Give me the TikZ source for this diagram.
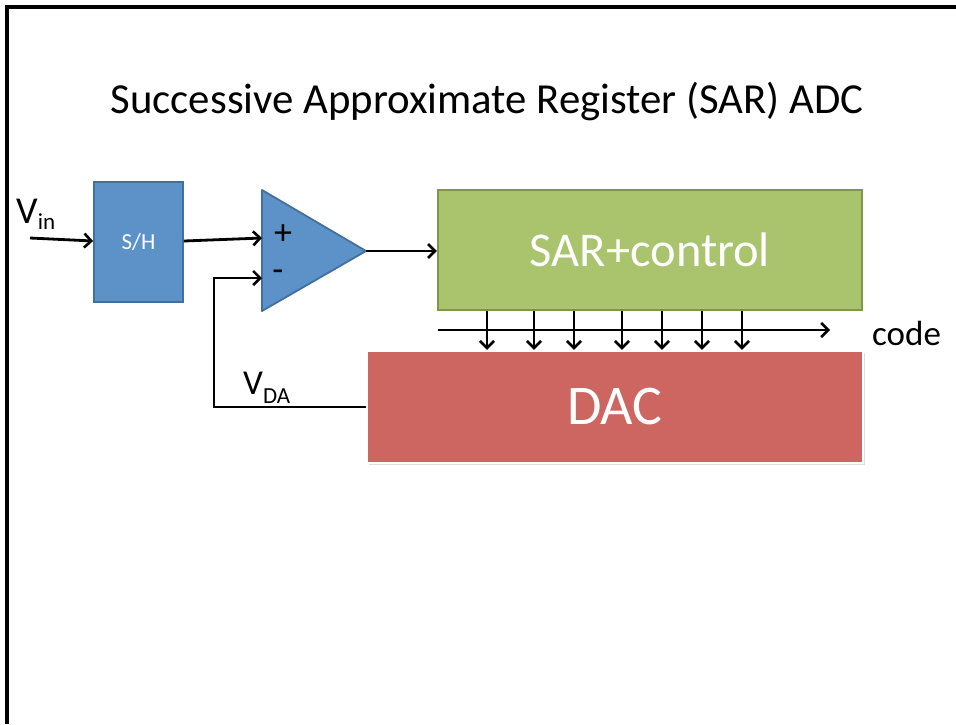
\documentclass[tikz,border=0pt]{standalone}
\usepackage{fontspec}
\setmainfont{Carlito}
\usetikzlibrary{arrows.meta,shadows}
\definecolor{shfill}{RGB}{92,146,200}
\definecolor{shedge}{RGB}{66,112,158}
\definecolor{sarfill}{RGB}{169,196,108}
\definecolor{saredge}{RGB}{126,152,72}
\definecolor{dacfill}{RGB}{205,102,97}
\newcommand{\fs}[1]{\fontsize{#1}{#1}\selectfont}
\tikzset{
  wire/.style={line width=2.8pt},
  arr/.style={wire,-{Straight Barb[length=7pt,width=14pt,line width=2.6pt]}},
  block/.style={rectangle,inner sep=0pt,text=white},
}
\begin{document}
\begin{tikzpicture}[x=1pt,y=-1pt]
\useasboundingbox (0,0) rectangle (956,724);
% slide frame
\draw[line width=3.5pt] (7,724) -- (7,7) -- (956,7);

% title
\node[anchor=base,inner sep=0pt,font=\fs{42.8}] (title) at (487,113)
  {Successive Approximate Register (SAR) ADC};

% sample and hold
\node[block,fill=shfill,draw=shedge,line width=1.8pt,
      minimum width=89,minimum height=120,font=\fs{23}] (sh) at (138.5,242) {S/H};

% comparator
\coordinate (cmpTop) at (262,190);
\coordinate (cmpBot) at (262,311);
\coordinate (cmpOut) at (366,251);
\coordinate (cmpP) at (262,238);
\coordinate (cmpM) at (262,278);
\draw[fill=shfill,draw=shedge,line width=1.8pt,line join=round]
  (cmpTop) -- (cmpOut) -- (cmpBot) -- cycle;
\node[inner sep=0pt,font=\fs{36}] (plus) at (283,235) {+};
\node[inner sep=0pt,font=\fs{36}] (minus) at (278,276) {-};

% SAR logic
\node[block,fill=sarfill,draw=saredge,line width=2.2pt,
      minimum width=424,minimum height=120,font=\fs{48.5}] (sar) at (650,250) {SAR+control};

% DAC
\node[block,fill=dacfill,draw=white,line width=2.5pt,
      drop shadow={opacity=0.25,shadow xshift=2pt,shadow yshift=-2pt},
      minimum width=496,minimum height=112,font=\fs{56}] (dac) at (615,407) {DAC};

% input labels
\node[anchor=base west,inner sep=0pt] (vin) at (16,223)
  {\fs{38}V\raisebox{-6pt}{\fs{23}in}};
\node[anchor=base west,inner sep=0pt] (vda) at (243,394)
  {\fs{35}V\raisebox{-9pt}{\fs{23}DA}};

% signal path
\coordinate (vinS) at (30,238);
\draw[arr] (vinS) -- (sh.west |- 0,241);
\draw[arr] (sh.east |- 0,241) -- (cmpP);
\draw[arr] (cmpOut) -- (sar.west |- cmpOut);

% feedback from the DAC to the inverting input
\coordinate (fb) at (214,407);
\draw[arr] (dac.west) -- (fb) |- (cmpM);

% output code bus
\coordinate (codeS) at (438,330);
\coordinate (codeE) at (830,330);
\draw[arr] (codeS) -- (codeE);
\node[anchor=base west,inner sep=0pt,font=\fs{35}] (code) at (872,345) {code};

% bit lines from the register to the DAC
\foreach \x [count=\i] in {487,534,574,622,662,702,742} {
  \coordinate (b\i) at (\x,330);
  \draw[arr] (sar.south -| b\i) -- (dac.north -| b\i);
}
\end{tikzpicture}
\end{document}
